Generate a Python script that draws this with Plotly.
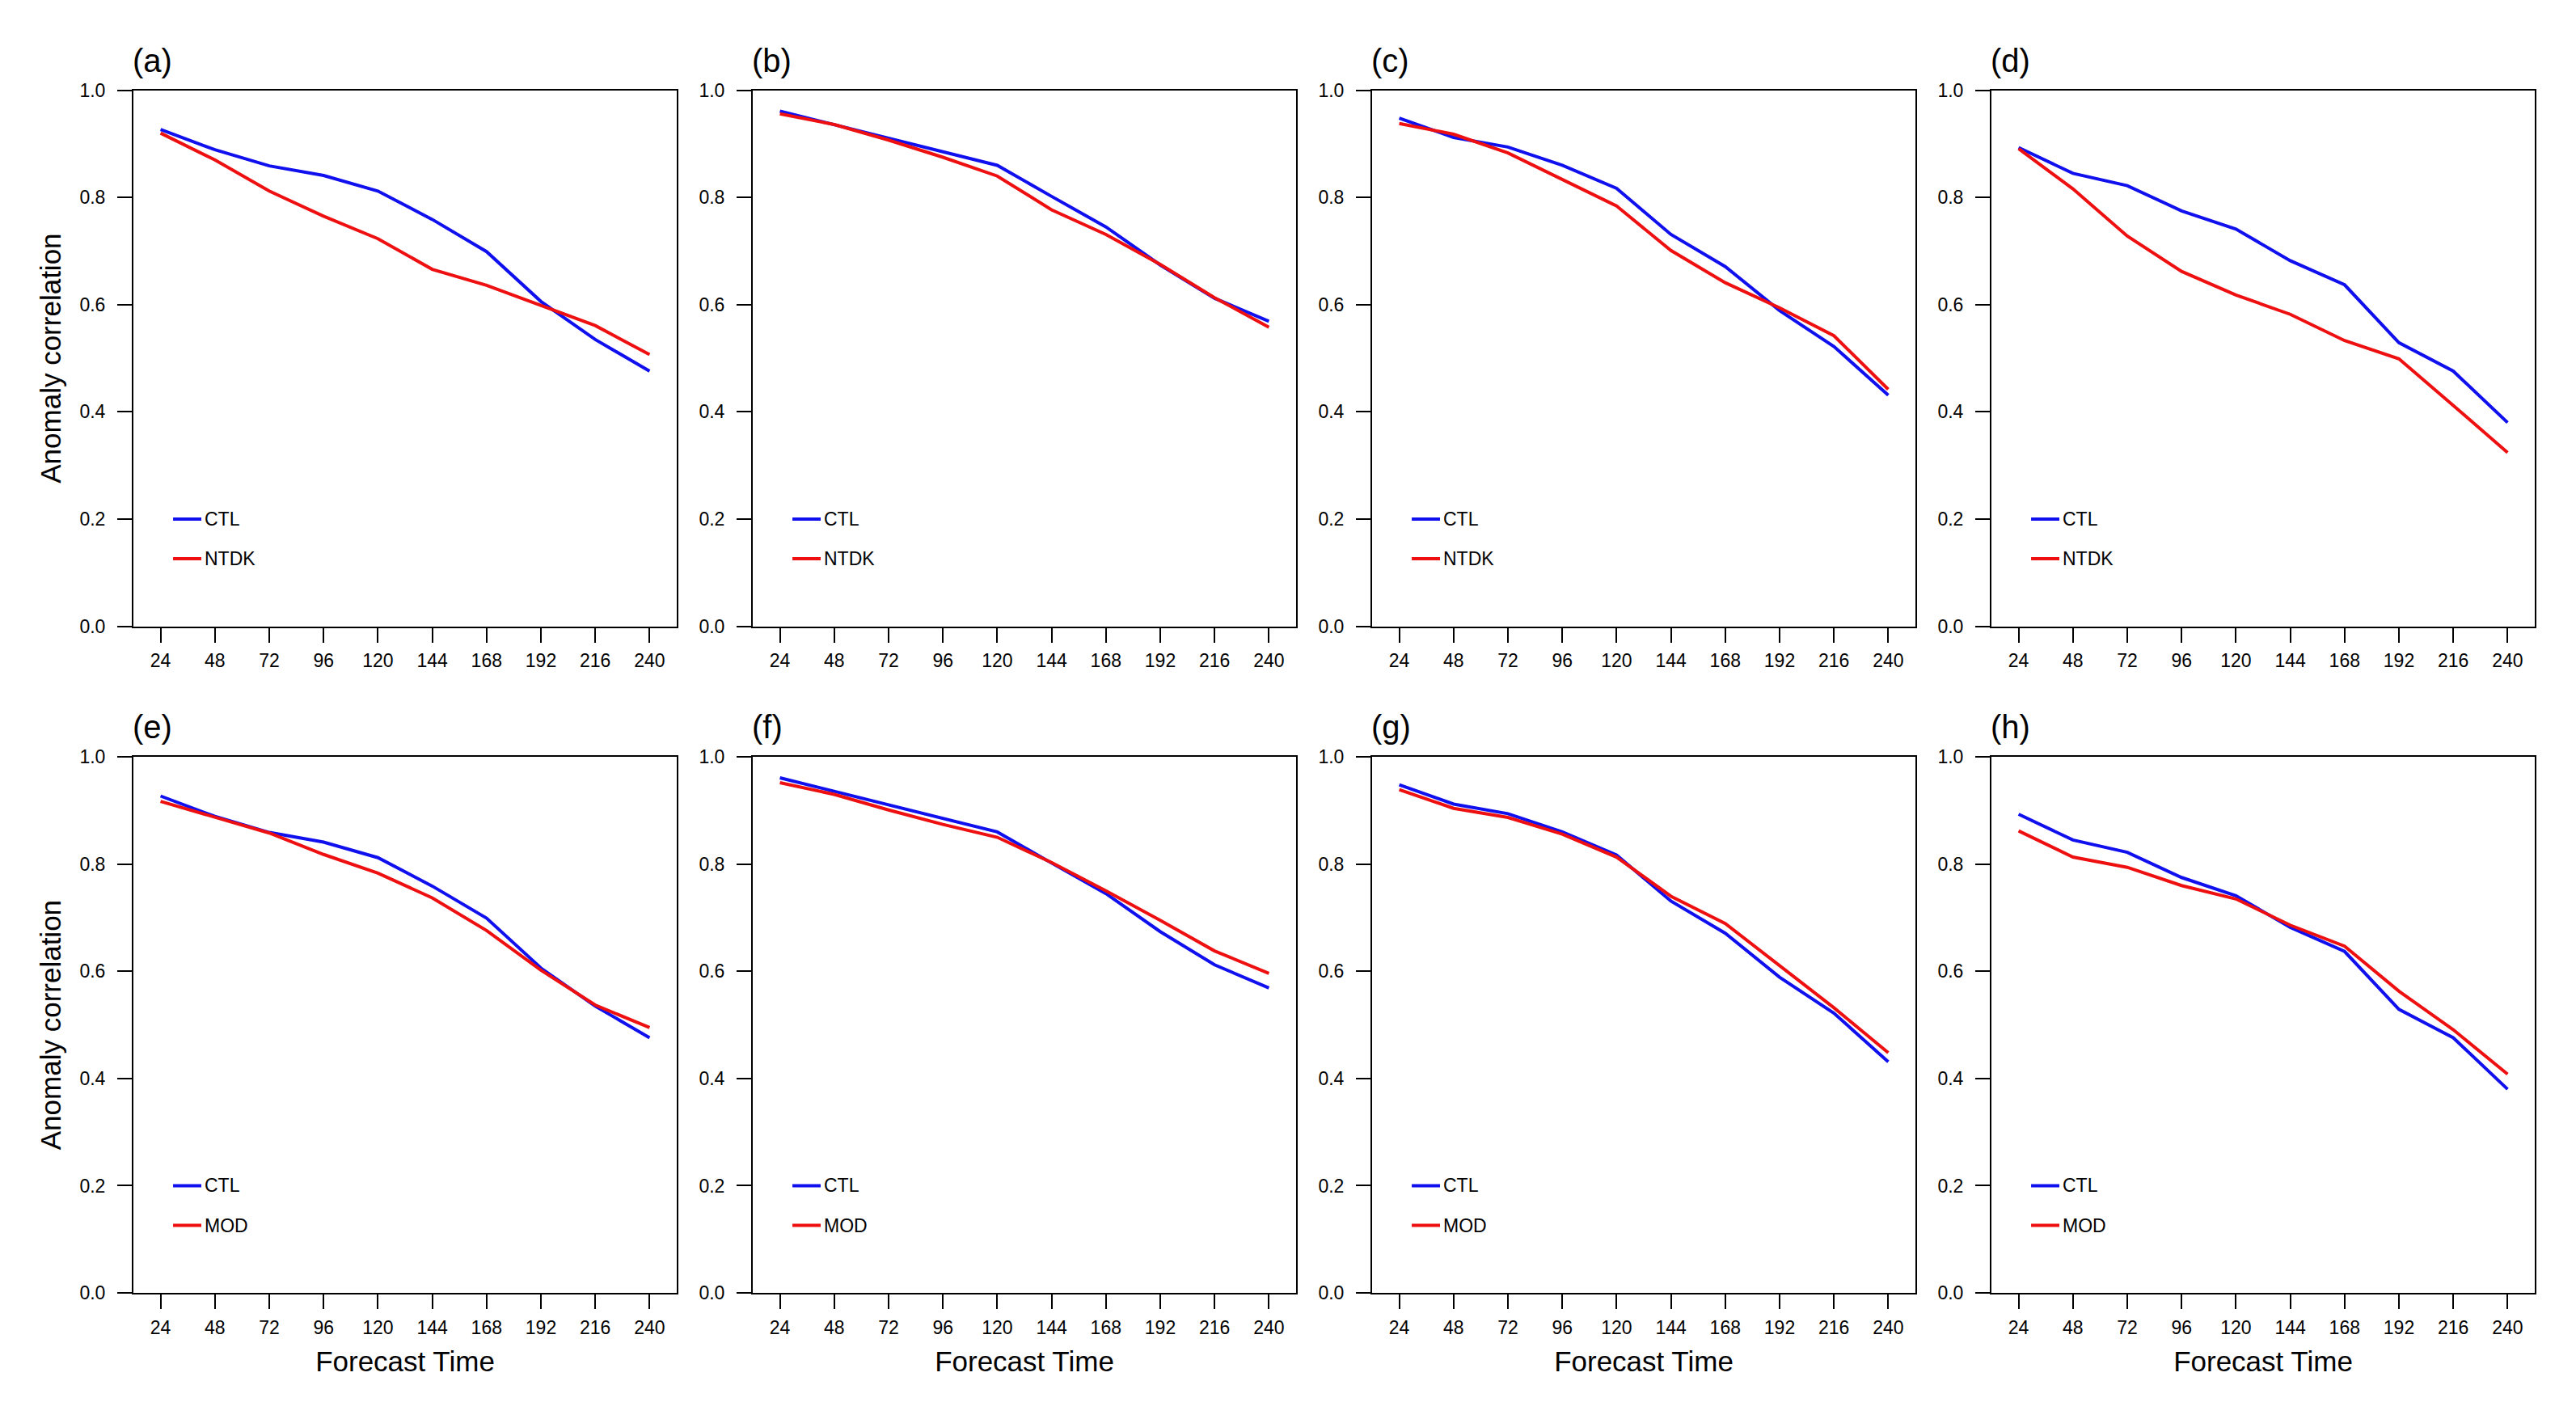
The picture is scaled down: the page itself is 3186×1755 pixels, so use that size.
import plotly.graph_objects as go

# ---------------- data ----------------
forecast_hours = [24, 48, 72, 96, 120, 144, 168, 192, 216, 240]
y_ticks = [0.0, 0.2, 0.4, 0.6, 0.8, 1.0]
panel_labels = ["(a)", "(b)", "(c)", "(d)", "(e)", "(f)", "(g)", "(h)"]

ctl_1 = [0.927, 0.889, 0.859, 0.841, 0.812, 0.759, 0.699, 0.606, 0.535, 0.476]
ctl_2 = [0.961, 0.936, 0.911, 0.886, 0.860, 0.802, 0.745, 0.674, 0.612, 0.569]
ctl_3 = [0.948, 0.912, 0.894, 0.860, 0.817, 0.731, 0.671, 0.589, 0.522, 0.431]
ctl_4 = [0.893, 0.845, 0.822, 0.775, 0.741, 0.682, 0.637, 0.529, 0.476, 0.380]

ntdk_a = [0.920, 0.870, 0.812, 0.765, 0.723, 0.666, 0.636, 0.598, 0.561, 0.507]
ntdk_b = [0.956, 0.936, 0.907, 0.875, 0.840, 0.777, 0.731, 0.675, 0.613, 0.558]
ntdk_c = [0.938, 0.918, 0.883, 0.834, 0.784, 0.701, 0.641, 0.594, 0.542, 0.442]
ntdk_d = [0.891, 0.816, 0.728, 0.662, 0.618, 0.582, 0.533, 0.499, 0.412, 0.324]

mod_e = [0.917, 0.888, 0.858, 0.818, 0.783, 0.737, 0.676, 0.602, 0.537, 0.495]
mod_f = [0.952, 0.930, 0.901, 0.874, 0.850, 0.803, 0.750, 0.695, 0.638, 0.596]
mod_g = [0.939, 0.904, 0.887, 0.856, 0.813, 0.740, 0.689, 0.610, 0.532, 0.448]
mod_h = [0.862, 0.813, 0.794, 0.760, 0.735, 0.686, 0.647, 0.563, 0.491, 0.408]

ctl_series = [ctl_1, ctl_2, ctl_3, ctl_4, ctl_1, ctl_2, ctl_3, ctl_4]
exp_series = [ntdk_a, ntdk_b, ntdk_c, ntdk_d, mod_e, mod_f, mod_g, mod_h]
exp_names = ["NTDK"] * 4 + ["MOD"] * 4

# ---------------- layout ----------------
PAGE_W, PAGE_H = 3186, 1755
BODY = 8                      # default page margin around the plot div
W, H = PAGE_W - 2 * BODY, PAGE_H - 2 * BODY
col_left = [165, 931, 1697, 2463]   # page pixel positions
plot_w = 672
row_top = [100, 937]
plot_h = 673

BLUE = "#1010ee"
RED = "#ee1010"
LW = 4
FONT = "Liberation Sans, Arial, Helvetica, sans-serif"

fig = go.Figure()
layout = dict(
    width=W, height=H,
    margin=dict(l=0, r=0, t=0, b=0),
    paper_bgcolor="white", plot_bgcolor="white",
    showlegend=False,
    font=dict(family=FONT, color="black"),
)
annotations = []
shapes = []

for i in range(8):
    r, c = divmod(i, 4)
    n = i + 1
    xa = "x" if n == 1 else f"x{n}"
    ya = "y" if n == 1 else f"y{n}"
    left = col_left[c] - BODY
    top = row_top[r] - BODY
    x0 = left / W
    x1 = (left + plot_w) / W
    y1 = 1 - top / H
    y0 = 1 - (top + plot_h) / H

    fig.add_trace(go.Scatter(x=forecast_hours, y=ctl_series[i], mode="lines",
                             line=dict(color=BLUE, width=LW), name="CTL",
                             xaxis=xa, yaxis=ya))
    fig.add_trace(go.Scatter(x=forecast_hours, y=exp_series[i], mode="lines",
                             line=dict(color=RED, width=LW), name=exp_names[i],
                             xaxis=xa, yaxis=ya))

    xkey = "xaxis" if n == 1 else f"xaxis{n}"
    ykey = "yaxis" if n == 1 else f"yaxis{n}"
    layout[xkey] = dict(
        domain=[x0, x1], anchor=ya, range=[12, 252],
        tickmode="array", tickvals=forecast_hours,
        ticktext=[str(v) for v in forecast_hours],
        ticks="outside", ticklen=18, tickwidth=2, tickcolor="black",
        showline=True, linewidth=2, linecolor="black", mirror=True,
        showgrid=False, zeroline=False,
        tickfont=dict(size=23, family=FONT, color="black"),
        ticklabelstandoff=3,
        title=dict(text="Forecast Time" if r == 1 else "",
                   font=dict(size=35, family=FONT, color="black"), standoff=18),
    )
    layout[ykey] = dict(
        domain=[y0, y1], anchor=xa, range=[0, 1],
        tickmode="array", tickvals=y_ticks,
        ticktext=[f"{v:.1f}" for v in y_ticks],
        ticks="outside", ticklen=18, tickwidth=2, tickcolor="black",
        showline=True, linewidth=2, linecolor="black", mirror=True,
        showgrid=False, zeroline=False,
        tickfont=dict(size=23, family=FONT, color="black"),
        ticklabelstandoff=10,
        title=dict(text="Anomaly correlation" if c == 0 else "",
                   font=dict(size=35, family=FONT, color="black"), standoff=12),
    )

    # panel label
    annotations.append(dict(
        text=panel_labels[i], xref=f"{xa} domain", yref=f"{ya} domain",
        x=-0.005, y=1.0, xanchor="left", yanchor="bottom", yshift=13,
        showarrow=False, font=dict(size=40, family=FONT, color="black")))

    # in-plot legend
    for nm, col, ly in [("CTL", BLUE, 0.2), (exp_names[i], RED, 0.126)]:
        shapes.append(dict(type="line", xref=f"{xa} domain", yref=f"{ya} domain",
                           x0=0.073, x1=0.125, y0=ly, y1=ly,
                           line=dict(color=col, width=LW)))
        annotations.append(dict(
            text=nm, xref=f"{xa} domain", yref=f"{ya} domain",
            x=0.128, y=ly, xanchor="left", yanchor="middle",
            showarrow=False, font=dict(size=23, family=FONT, color="black")))

layout["annotations"] = annotations
layout["shapes"] = shapes
fig.update_layout(**layout)
fig.write_html("out.html")
